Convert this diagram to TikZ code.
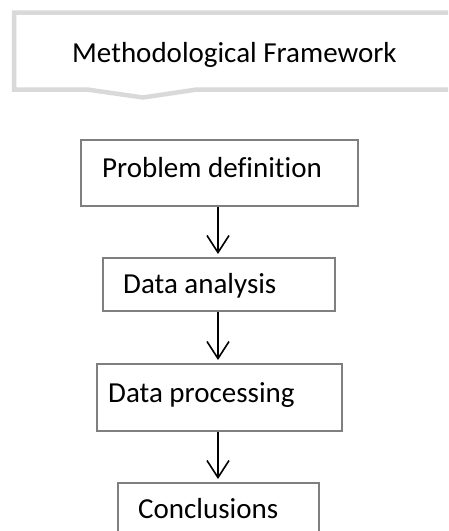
\documentclass[tikz,border=0pt]{standalone}
\usepackage{fontspec}
\setmainfont[Ligatures=NoCommon]{Carlito}
\usetikzlibrary{arrows.meta}
\definecolor{calloutgray}{HTML}{D9D9D9}
\definecolor{boxgray}{HTML}{7F7F7F}
\tikzset{
  stepbox/.style={draw=boxgray, line width=1.5pt, fill=white, rectangle,
    inner sep=0pt, anchor=north west},
  steptext/.style={anchor=base west, inner sep=0pt, font=\fontsize{29}{33}\selectfont},
  flow/.style={draw=black, line width=1.6pt,
    -{Straight Barb[length=17pt, width=22pt, line width=1.6pt]}, shorten >=3pt}
}
\begin{document}
\begin{tikzpicture}[x=1pt, y=-1pt]
  \useasboundingbox (0,0) rectangle (448,531);
  \clip (0,0) rectangle (448,531);

  % heading callout with a downward pointer
  \draw[calloutgray, line width=4.5pt, fill=white, line join=miter]
    (470,12.5) -- (14,12.5) -- (14,89.5) -- (87,89.5) -- (143,97.5)
    -- (197,89.5) -- (470,89.5);
  \node[steptext] (title) at (72,62) {Methodological Framework};

  % process steps
  \node[stepbox, minimum width=277pt, minimum height=66pt] (b1) at (80,139) {};
  \node[steptext] (t1) at (102,177) {Problem definition};

  \node[stepbox, minimum width=232pt, minimum height=53pt] (b2) at (102,257) {};
  \node[steptext] (t2) at (123,293) {Data analysis};

  \node[stepbox, minimum width=245pt, minimum height=67pt] (b3) at (96,363) {};
  \node[steptext] (t3) at (108,402) {Data processing};

  \node[stepbox, minimum width=201pt, minimum height=70pt] (b4) at (117,482) {};
  \node[steptext] (t4) at (138,518) {Conclusions};

  % connectors share one vertical axis
  \coordinate (ax) at (218,0);
  \draw[flow] (b1.south -| ax) -- (b2.north -| ax);
  \draw[flow] (b2.south -| ax) -- (b3.north -| ax);
  \draw[flow] (b3.south -| ax) -- (b4.north -| ax);
\end{tikzpicture}
\end{document}
